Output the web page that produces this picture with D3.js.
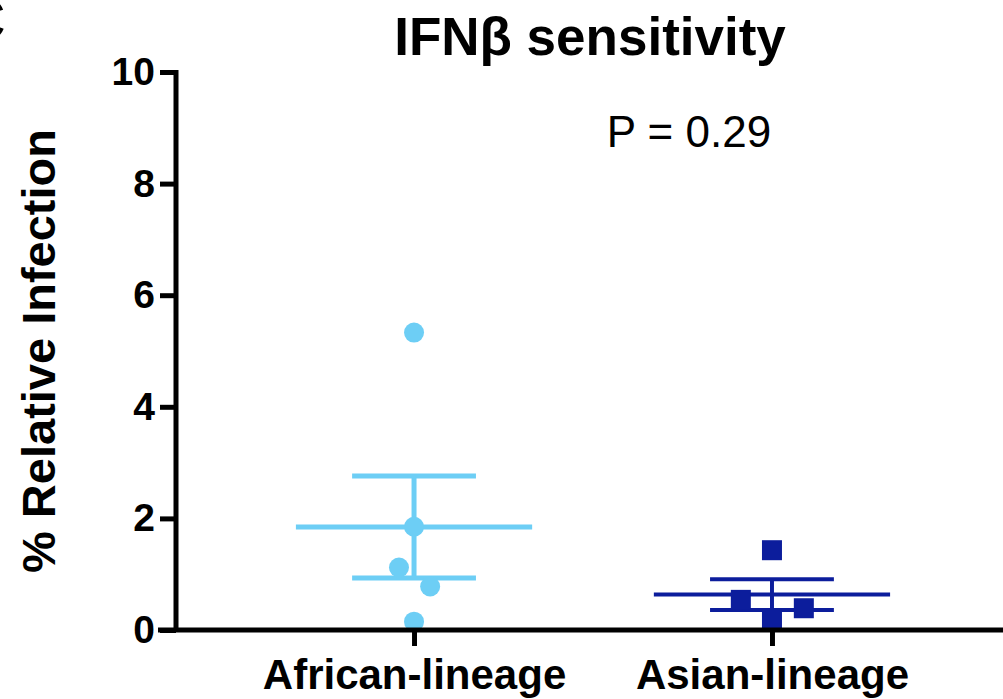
<!DOCTYPE html>
<html>
<head>
<meta charset="utf-8">
<script src="https://cdn.jsdelivr.net/npm/d3@7"></script>
<style>
  html, body { margin: 0; padding: 0; background: #fff; }
  svg { display: block; }
  text { font-family: "Liberation Sans", Arial, Helvetica, sans-serif; }
</style>
</head>
<body>
<svg id="chart" width="1003" height="699"></svg>
<script>
// ---- data ----
const categories = ["African-lineage", "Asian-lineage"];
const africanValues = [5.33, 1.85, 1.12, 0.78, 0.15];
const africanJitter = [0, 0, -0.042, 0.045, 0];   // fraction of category step
const asianValues = [1.43, 0.54, 0.39, 0.18];
const asianJitter = [0, -0.087, 0.089, 0];
const yTicks = [0, 2, 4, 6, 8, 10];
const titleText = "IFNβ sensitivity";
const yLabel = "% Relative Infection";
const pText = "P = 0.29";

const groups = [
  { name: categories[0], values: africanValues, jitter: africanJitter, color: "#6dcef5", shape: "circle", lw: 5 },
  { name: categories[1], values: asianValues, jitter: asianJitter, color: "#0c1d9c", shape: "square", lw: 4 }
];

const svg = d3.select("#chart");
const W = 1003, H = 699;

const x = d3.scalePoint().domain(categories).range([176, 1010]).padding(0.665);
const step = x.step();
const y = d3.scaleLinear().domain([0, 10]).range([630, 72]);

// title
svg.append("text").attr("x", 590).attr("y", 55).attr("text-anchor", "middle")
  .attr("font-size", 53).attr("font-weight", "bold").text(titleText);

// partial panel letter at top-left
svg.append("text").attr("x", -38).attr("y", 40).attr("font-size", 60)
  .attr("font-weight", "bold").text("C");

// P value
svg.append("text").attr("x", 689).attr("y", 147).attr("text-anchor", "middle")
  .attr("font-size", 44).text(pText);

// y label
svg.append("text").attr("transform", "translate(55,351) rotate(-90)")
  .attr("text-anchor", "middle").attr("font-size", 47).attr("font-weight", "bold").text(yLabel);

// data marks
groups.forEach(g => {
  const cx = x(g.name);
  const n = g.values.length;
  const mean = d3.mean(g.values);
  const sem = d3.deviation(g.values) / Math.sqrt(n);
  const grp = svg.append("g");
  // mean line
  grp.append("line").attr("x1", cx - 0.33 * step).attr("x2", cx + 0.33 * step)
    .attr("y1", y(mean)).attr("y2", y(mean))
    .attr("stroke", g.color).attr("stroke-width", g.lw);
  // sem vertical
  grp.append("line").attr("x1", cx).attr("x2", cx)
    .attr("y1", y(mean + sem)).attr("y2", y(mean - sem))
    .attr("stroke", g.color).attr("stroke-width", g.lw);
  // caps
  [mean + sem, mean - sem].forEach(v => {
    grp.append("line").attr("x1", cx - 0.173 * step).attr("x2", cx + 0.173 * step)
      .attr("y1", y(v)).attr("y2", y(v))
      .attr("stroke", g.color).attr("stroke-width", g.lw);
  });
  // points
  const pts = g.values.map((v, i) => ({ v, px: cx + g.jitter[i] * step }));
  if (g.shape === "circle") {
    grp.selectAll("circle.pt").data(pts).join("circle").attr("class", "pt")
      .attr("cx", d => d.px).attr("cy", d => y(d.v)).attr("r", 10)
      .attr("fill", g.color);
  } else {
    grp.selectAll("rect.pt").data(pts).join("rect").attr("class", "pt")
      .attr("x", d => d.px - 10).attr("y", d => y(d.v) - 10)
      .attr("width", 20).attr("height", 20).attr("fill", g.color);
  }
});

// y axis
const yAxis = svg.append("g").attr("transform", "translate(176,0)")
  .call(d3.axisLeft(y).tickValues(yTicks).tickFormat(d3.format("d")).tickSize(16).tickSizeOuter(0).tickPadding(5));
yAxis.select(".domain").attr("stroke", "#000").attr("stroke-width", 5).attr("d", `M0,${y(10)-2}V${y(0)+2}`);
yAxis.selectAll(".tick line").attr("stroke", "#000").attr("stroke-width", 5);
yAxis.selectAll(".tick text").attr("font-size", 39).attr("font-weight", "bold")
  .attr("font-family", "Liberation Sans, Arial, sans-serif").attr("fill", "#000");

// x axis
const xAxis = svg.append("g").attr("transform", "translate(0,630)")
  .call(d3.axisBottom(x).tickSize(16).tickSizeOuter(0).tickPadding(8));
xAxis.select(".domain").attr("stroke", "#000").attr("stroke-width", 5).attr("d", `M158,0H${W + 10}`);
xAxis.selectAll(".tick line").attr("stroke", "#000").attr("stroke-width", 5);
xAxis.selectAll(".tick text").attr("font-size", 42).attr("font-weight", "bold")
  .attr("font-family", "Liberation Sans, Arial, sans-serif").attr("fill", "#000")
  .attr("dy", null).attr("y", 59);
</script>
</body>
</html>
